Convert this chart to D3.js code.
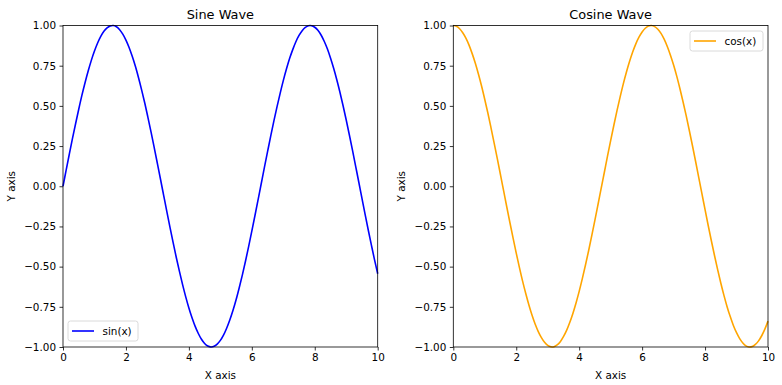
<!DOCTYPE html>
<html><head><meta charset="utf-8">
<script src="https://cdn.jsdelivr.net/npm/d3@7"></script>
<style>body{margin:0;background:#fff}svg{display:block;font-family:"DejaVu Sans",sans-serif}</style>
</head><body><svg id="c" width="782" height="385"></svg>
<script>
const xValues = d3.range(0, 101).map(i => i / 10);
const sinValues = [0.000,0.100,0.199,0.296,0.389,0.479,0.565,0.644,0.717,0.783,0.841,0.891,0.932,0.964,0.985,0.997,1.000,0.992,0.974,0.946,0.909,0.863,0.808,0.746,0.675,0.598,0.516,0.427,0.335,0.239,0.141,0.042,-0.058,-0.158,-0.256,-0.351,-0.443,-0.530,-0.612,-0.688,-0.757,-0.818,-0.872,-0.916,-0.952,-0.978,-0.994,-1.000,-0.996,-0.982,-0.959,-0.926,-0.883,-0.832,-0.773,-0.706,-0.631,-0.551,-0.465,-0.374,-0.279,-0.182,-0.083,0.017,0.117,0.215,0.312,0.405,0.494,0.578,0.657,0.729,0.794,0.850,0.899,0.938,0.968,0.988,0.999,0.999,0.989,0.970,0.941,0.902,0.855,0.798,0.734,0.663,0.585,0.501,0.412,0.319,0.223,0.124,0.025,-0.075,-0.175,-0.272,-0.366,-0.458,-0.544];
const cosValues = [1.000,0.995,0.980,0.955,0.921,0.878,0.825,0.765,0.697,0.622,0.540,0.454,0.362,0.267,0.170,0.071,-0.029,-0.129,-0.227,-0.323,-0.416,-0.505,-0.589,-0.666,-0.737,-0.801,-0.857,-0.904,-0.942,-0.971,-0.990,-0.999,-0.998,-0.987,-0.967,-0.936,-0.897,-0.848,-0.791,-0.726,-0.654,-0.575,-0.490,-0.401,-0.307,-0.211,-0.112,-0.012,0.087,0.187,0.284,0.378,0.469,0.554,0.635,0.709,0.776,0.835,0.886,0.927,0.960,0.983,0.997,1.000,0.993,0.977,0.951,0.915,0.869,0.815,0.754,0.685,0.608,0.526,0.439,0.347,0.252,0.154,0.054,-0.046,-0.146,-0.244,-0.339,-0.431,-0.519,-0.602,-0.679,-0.749,-0.811,-0.866,-0.911,-0.948,-0.975,-0.993,-1.000,-0.997,-0.984,-0.962,-0.930,-0.889,-0.839];
const xTicks = [0, 2, 4, 6, 8, 10];
const yTicks = [-1.00, -0.75, -0.50, -0.25, 0.00, 0.25, 0.50, 0.75, 1.00];
const panels = [
  {title: "Sine Wave", label: "sin(x)", values: sinValues, color: "#0000ff", left: 63, legend: "ll"},
  {title: "Cosine Wave", label: "cos(x)", values: cosValues, color: "#ffa500", left: 453.3, legend: "ur"}
];
const W = 314.7, plotTop = 25.5, plotBottom = 347;
const svg = d3.select("#c");
const fmt = d3.format(".2f");
panels.forEach(p => {
  const x = d3.scaleLinear().domain([0, 10]).range([p.left, p.left + W]);
  const y = d3.scaleLinear().domain([-1, 1]).range([plotBottom, plotTop]);
  const g = svg.append("g");
  const ya = g.append("g").attr("transform", `translate(${p.left},0)`)
    .call(d3.axisLeft(y).tickValues(yTicks).tickFormat(v => fmt(v).replace("-", "\u2212")).tickSize(3.5).tickPadding(3.5));
  const xa = g.append("g").attr("transform", `translate(0,${plotBottom})`)
    .call(d3.axisBottom(x).tickValues(xTicks).tickFormat(d3.format("d")).tickSize(3.5).tickPadding(3.5));
  [ya, xa].forEach(a => {
    a.select(".domain").remove();
    a.selectAll("text").attr("font-size", "10.4px").attr("fill", "#000").attr("font-family", "DejaVu Sans");
    a.selectAll("line").attr("stroke", "#000").attr("stroke-width", 0.8);
  });
  const line = d3.line().x((d, i) => x(xValues[i])).y(d => y(d)).curve(d3.curveCatmullRom);
  g.append("path").datum(p.values).attr("d", line).attr("fill", "none")
    .attr("stroke", p.color).attr("stroke-width", 1.6);
  g.append("rect").attr("x", p.left).attr("y", plotTop).attr("width", W).attr("height", plotBottom - plotTop)
    .attr("fill", "none").attr("stroke", "#000").attr("stroke-width", 0.8);
  g.append("text").attr("x", p.left + W / 2).attr("y", 19).attr("text-anchor", "middle")
    .attr("font-size", "12.9px").attr("fill", "#000").text(p.title);
  g.append("text").attr("x", p.left + W / 2).attr("y", 379).attr("text-anchor", "middle")
    .attr("font-size", "10.4px").attr("fill", "#000").text("X axis");
  g.append("text").attr("transform", `translate(${p.left - 52},${(plotTop + plotBottom) / 2}) rotate(-90)`)
    .attr("text-anchor", "middle").attr("dy", "0.35em").attr("font-size", "10.4px").attr("fill", "#000").text("Y axis");
  let lx, ly, lw;
  if (p.legend === "ll") { lx = p.left + 5; ly = plotBottom - 26; lw = 70; }
  else { lx = p.left + W - 78; ly = plotTop + 5.5; lw = 73; }
  const lg = g.append("g").attr("transform", `translate(${lx},${ly})`);
  lg.append("rect").attr("width", lw).attr("height", 20).attr("rx", 2.5)
    .attr("fill", "#fff").attr("fill-opacity", 0.8).attr("stroke", "#d0d0d0").attr("stroke-width", 0.8);
  lg.append("line").attr("x1", 4).attr("x2", 26).attr("y1", 10).attr("y2", 10)
    .attr("stroke", p.color).attr("stroke-width", 1.6);
  lg.append("text").attr("x", 34.5).attr("y", 10).attr("dy", "0.35em").attr("font-size", "10.4px")
    .attr("fill", "#000").text(p.label);
});
</script></body></html>
